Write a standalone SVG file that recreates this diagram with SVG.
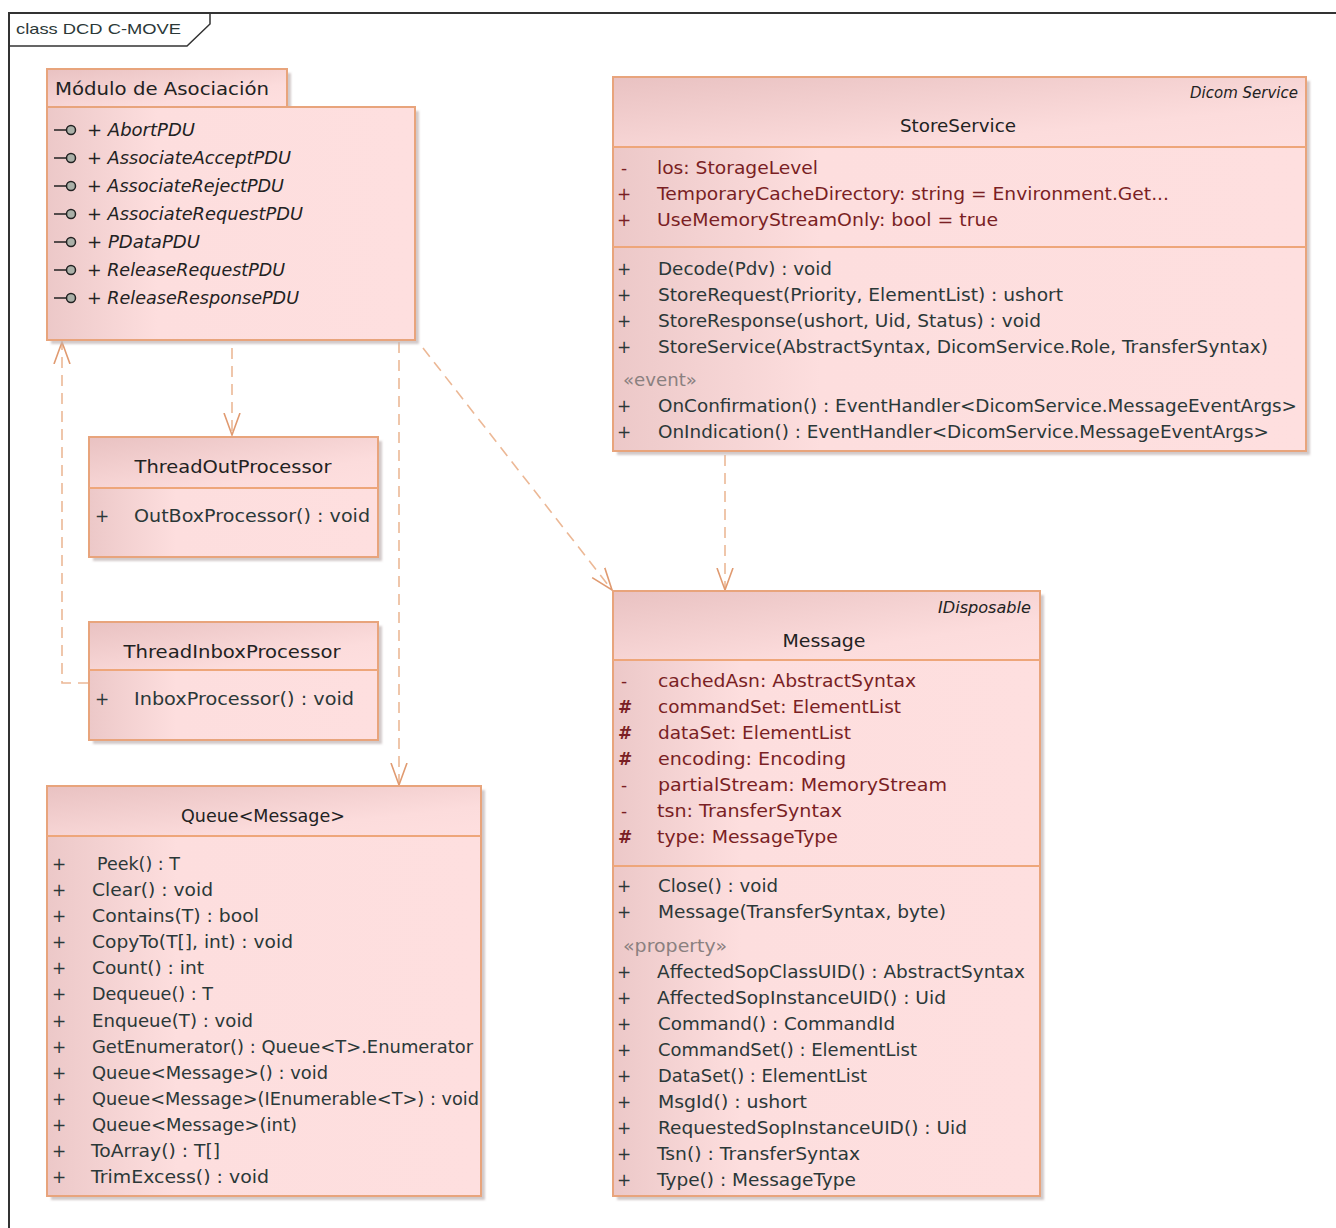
<svg xmlns="http://www.w3.org/2000/svg" width="1336" height="1228" viewBox="0 0 1336 1228">
<style>
text{font-family:"DejaVu Sans",Verdana,sans-serif;font-size:17px;fill:#2b3838;transform:translateY(1px)}
.t{fill:#222}
.a{fill:#7a1f24}
.s{fill:#8a8080}
.i{font-style:italic;fill:#222}
.m{text-anchor:middle;fill:#222}
.box{fill:url(#body);stroke:#e8a47c;stroke-width:2}
.hd{fill:url(#head);stroke:none}
.sh{fill:#c4b8b8;opacity:.75;filter:url(#blur)}
.div{stroke:#eea67a;stroke-width:2;fill:none}
.edge{fill:none;stroke:#ecb896;stroke-width:1.6;stroke-dasharray:11 7}
.lol{fill:none;stroke:#222;stroke-width:1.5}
.bulb{fill:#aab0a8;stroke:#222;stroke-width:1.5}
</style>
<defs>
<linearGradient id="body" x1="0" x2="1" y1="0" y2="0"><stop offset="0" stop-color="#ecc8c8"/><stop offset=".3" stop-color="#fddede"/><stop offset="1" stop-color="#fedfdf"/></linearGradient>
<linearGradient id="head" x1="0" x2="1" y1="0" y2="1"><stop offset="0" stop-color="#e9c2c2"/><stop offset=".7" stop-color="#fcdcdc"/><stop offset="1" stop-color="#fedfdf"/></linearGradient>
<filter id="blur"><feGaussianBlur stdDeviation="1.2"/></filter>
<marker id="open" markerWidth="26" markerHeight="30" refX="22" refY="12" orient="auto" markerUnits="userSpaceOnUse"><path d="M0 4L22 12L0 20" fill="none" stroke="#e09a70" stroke-width="1.6"/></marker>
</defs>
<rect width="1336" height="1228" fill="#fff"/>
<g id="frame"><path d="M1336 13H9V1228" fill="none" stroke="#333" stroke-width="2"/><path d="M9 46H187L210 24V13" fill="none" stroke="#333" stroke-width="1.5"/><text x="16" y="34" textLength="165" lengthAdjust="spacingAndGlyphs" style="font-family:'Liberation Sans',Arial,sans-serif;font-size:15px;transform:none">class DCD C-MOVE</text></g>
<g id="connectors">
<path class="edge" d="M232 348V435" marker-end="url(#open)"/>
<path class="edge" d="M399 342V785" marker-end="url(#open)"/>
<path class="edge" d="M423 348L612 590" marker-end="url(#open)"/>
<path class="edge" d="M725 455V590" marker-end="url(#open)"/>
<path class="edge" d="M89 683H62V342" marker-end="url(#open)"/>
</g>
<g id="modulo-asociacion">
<rect class="sh" x="51" y="73" width="240" height="40"/><rect class="sh" x="51" y="111" width="368" height="233"/>
<rect class="box" x="47" y="69" width="240" height="38"/><rect class="hd" x="48" y="70" width="238" height="36"/>
<rect class="box" x="47" y="107" width="368" height="233"/>
<text class="t" x="55" y="94" textLength="214" lengthAdjust="spacingAndGlyphs">Módulo de Asociación</text>
<path class="lol" d="M54 130H66M54 158H66M54 186H66M54 214H66M54 242H66M54 270H66M54 298H66"/>
<circle class="bulb" cx="71" cy="130" r="4.5"/><circle class="bulb" cx="71" cy="158" r="4.5"/><circle class="bulb" cx="71" cy="186" r="4.5"/><circle class="bulb" cx="71" cy="214" r="4.5"/><circle class="bulb" cx="71" cy="242" r="4.5"/><circle class="bulb" cx="71" cy="270" r="4.5"/><circle class="bulb" cx="71" cy="298" r="4.5"/>
<text class="i" x="87" y="135" textLength="108" lengthAdjust="spacingAndGlyphs">+ AbortPDU</text>
<text class="i" x="87" y="163" textLength="204" lengthAdjust="spacingAndGlyphs">+ AssociateAcceptPDU</text>
<text class="i" x="87" y="191" textLength="197" lengthAdjust="spacingAndGlyphs">+ AssociateRejectPDU</text>
<text class="i" x="87" y="219" textLength="216" lengthAdjust="spacingAndGlyphs">+ AssociateRequestPDU</text>
<text class="i" x="87" y="247" textLength="113" lengthAdjust="spacingAndGlyphs">+ PDataPDU</text>
<text class="i" x="87" y="275" textLength="198" lengthAdjust="spacingAndGlyphs">+ ReleaseRequestPDU</text>
<text class="i" x="87" y="303" textLength="212" lengthAdjust="spacingAndGlyphs">+ ReleaseResponsePDU</text>
</g>
<g id="store-service">
<rect class="sh" x="617" y="81" width="693" height="374"/>
<rect class="box" x="613" y="77" width="693" height="374"/><rect class="hd" x="614" y="78" width="691" height="69"/>
<path class="div" d="M613 147H1306M613 247H1306"/>
<text class="i" x="1190" y="97" textLength="108" lengthAdjust="spacingAndGlyphs" style="font-size:15px">Dicom Service</text>
<text class="m" x="958" y="131" textLength="116" lengthAdjust="spacingAndGlyphs">StoreService</text>
<text class="a" x="621" y="173">-</text><text class="a" x="657" y="173" textLength="161" lengthAdjust="spacingAndGlyphs">los:  StorageLevel</text>
<text class="a" x="617" y="199">+</text><text class="a" x="657" y="199" textLength="512" lengthAdjust="spacingAndGlyphs">TemporaryCacheDirectory:  string = Environment.Get...</text>
<text class="a" x="617" y="225">+</text><text class="a" x="657" y="225" textLength="341" lengthAdjust="spacingAndGlyphs">UseMemoryStreamOnly:  bool = true</text>
<text x="617" y="274">+</text><text x="658" y="274" textLength="174" lengthAdjust="spacingAndGlyphs">Decode(Pdv) : void</text>
<text x="617" y="300">+</text><text x="658" y="300" textLength="405" lengthAdjust="spacingAndGlyphs">StoreRequest(Priority, ElementList) : ushort</text>
<text x="617" y="326">+</text><text x="658" y="326" textLength="383" lengthAdjust="spacingAndGlyphs">StoreResponse(ushort, Uid, Status) : void</text>
<text x="617" y="352">+</text><text x="658" y="352" textLength="610" lengthAdjust="spacingAndGlyphs">StoreService(AbstractSyntax, DicomService.Role, TransferSyntax)</text>
<text class="s" x="623" y="385" textLength="74" lengthAdjust="spacingAndGlyphs">«event»</text>
<text x="617" y="411">+</text><text x="658" y="411" textLength="639" lengthAdjust="spacingAndGlyphs">OnConfirmation() : EventHandler&lt;DicomService.MessageEventArgs&gt;</text>
<text x="617" y="437">+</text><text x="658" y="437" textLength="611" lengthAdjust="spacingAndGlyphs">OnIndication() : EventHandler&lt;DicomService.MessageEventArgs&gt;</text>
</g>
<g id="thread-out-processor">
<rect class="sh" x="93" y="441" width="289" height="120"/>
<rect class="box" x="89" y="437" width="289" height="120"/><rect class="hd" x="90" y="438" width="287" height="50"/>
<path class="div" d="M89 488H378"/>
<text class="m" x="233" y="472" textLength="197" lengthAdjust="spacingAndGlyphs">ThreadOutProcessor</text>
<text x="95" y="521">+</text><text x="134" y="521" textLength="236" lengthAdjust="spacingAndGlyphs">OutBoxProcessor() : void</text>
</g>
<g id="thread-inbox-processor">
<rect class="sh" x="93" y="626" width="289" height="118"/>
<rect class="box" x="89" y="622" width="289" height="118"/><rect class="hd" x="90" y="623" width="287" height="47"/>
<path class="div" d="M89 670H378"/>
<text class="m" x="232" y="657" textLength="217" lengthAdjust="spacingAndGlyphs">ThreadInboxProcessor</text>
<text x="95" y="704">+</text><text x="134" y="704" textLength="220" lengthAdjust="spacingAndGlyphs">InboxProcessor() : void</text>
</g>
<g id="queue-message">
<rect class="sh" x="51" y="790" width="434" height="410"/>
<rect class="box" x="47" y="786" width="434" height="410"/><rect class="hd" x="48" y="787" width="432" height="49"/>
<path class="div" d="M47 836H481"/>
<text class="m" x="263" y="821" textLength="164" lengthAdjust="spacingAndGlyphs">Queue&lt;Message&gt;</text>
<text x="52" y="869">+</text><text x="97" y="869" textLength="83" lengthAdjust="spacingAndGlyphs">Peek() : T</text>
<text x="52" y="895">+</text><text x="92" y="895" textLength="121" lengthAdjust="spacingAndGlyphs">Clear() : void</text>
<text x="52" y="921">+</text><text x="92" y="921" textLength="167" lengthAdjust="spacingAndGlyphs">Contains(T) : bool</text>
<text x="52" y="947">+</text><text x="92" y="947" textLength="201" lengthAdjust="spacingAndGlyphs">CopyTo(T[], int) : void</text>
<text x="52" y="973">+</text><text x="92" y="973" textLength="112" lengthAdjust="spacingAndGlyphs">Count() : int</text>
<text x="52" y="999">+</text><text x="92" y="999" textLength="121" lengthAdjust="spacingAndGlyphs">Dequeue() : T</text>
<text x="52" y="1026">+</text><text x="92" y="1026" textLength="161" lengthAdjust="spacingAndGlyphs">Enqueue(T) : void</text>
<text x="52" y="1052">+</text><text x="92" y="1052" textLength="381" lengthAdjust="spacingAndGlyphs">GetEnumerator() : Queue&lt;T&gt;.Enumerator</text>
<text x="52" y="1078">+</text><text x="92" y="1078" textLength="236" lengthAdjust="spacingAndGlyphs">Queue&lt;Message&gt;() : void</text>
<text x="52" y="1104">+</text><text x="92" y="1104" textLength="387" lengthAdjust="spacingAndGlyphs">Queue&lt;Message&gt;(IEnumerable&lt;T&gt;) : void</text>
<text x="52" y="1130">+</text><text x="92" y="1130" textLength="205" lengthAdjust="spacingAndGlyphs">Queue&lt;Message&gt;(int)</text>
<text x="52" y="1156">+</text><text x="91" y="1156" textLength="129" lengthAdjust="spacingAndGlyphs">ToArray() : T[]</text>
<text x="52" y="1182">+</text><text x="91" y="1182" textLength="178" lengthAdjust="spacingAndGlyphs">TrimExcess() : void</text>
</g>
<g id="message">
<rect class="sh" x="617" y="595" width="427" height="605"/>
<rect class="box" x="613" y="591" width="427" height="605"/><rect class="hd" x="614" y="592" width="425" height="68"/>
<path class="div" d="M613 660H1040M613 866H1040"/>
<text class="i" x="938" y="612" textLength="93" lengthAdjust="spacingAndGlyphs" style="font-size:15px">IDisposable</text>
<text class="m" x="824" y="646" textLength="83" lengthAdjust="spacingAndGlyphs">Message</text>
<text class="a" x="621" y="686">-</text><text class="a" x="658" y="686" textLength="258" lengthAdjust="spacingAndGlyphs">cachedAsn:  AbstractSyntax</text>
<text class="a" x="618" y="712" font-weight="bold">#</text><text class="a" x="658" y="712" textLength="243" lengthAdjust="spacingAndGlyphs">commandSet:  ElementList</text>
<text class="a" x="618" y="738" font-weight="bold">#</text><text class="a" x="658" y="738" textLength="193" lengthAdjust="spacingAndGlyphs">dataSet:  ElementList</text>
<text class="a" x="618" y="764" font-weight="bold">#</text><text class="a" x="658" y="764" textLength="188" lengthAdjust="spacingAndGlyphs">encoding:  Encoding</text>
<text class="a" x="621" y="790">-</text><text class="a" x="658" y="790" textLength="289" lengthAdjust="spacingAndGlyphs">partialStream:  MemoryStream</text>
<text class="a" x="621" y="816">-</text><text class="a" x="657" y="816" textLength="185" lengthAdjust="spacingAndGlyphs">tsn:  TransferSyntax</text>
<text class="a" x="618" y="842" font-weight="bold">#</text><text class="a" x="657" y="842" textLength="181" lengthAdjust="spacingAndGlyphs">type:  MessageType</text>
<text x="617" y="891">+</text><text x="658" y="891" textLength="120" lengthAdjust="spacingAndGlyphs">Close() : void</text>
<text x="617" y="917">+</text><text x="658" y="917" textLength="288" lengthAdjust="spacingAndGlyphs">Message(TransferSyntax, byte)</text>
<text class="s" x="623" y="951" textLength="104" lengthAdjust="spacingAndGlyphs">«property»</text>
<text x="617" y="977">+</text><text x="657" y="977" textLength="368" lengthAdjust="spacingAndGlyphs">AffectedSopClassUID() : AbstractSyntax</text>
<text x="617" y="1003">+</text><text x="657" y="1003" textLength="289" lengthAdjust="spacingAndGlyphs">AffectedSopInstanceUID() : Uid</text>
<text x="617" y="1029">+</text><text x="658" y="1029" textLength="237" lengthAdjust="spacingAndGlyphs">Command() : CommandId</text>
<text x="617" y="1055">+</text><text x="658" y="1055" textLength="259" lengthAdjust="spacingAndGlyphs">CommandSet() : ElementList</text>
<text x="617" y="1081">+</text><text x="658" y="1081" textLength="209" lengthAdjust="spacingAndGlyphs">DataSet() : ElementList</text>
<text x="617" y="1107">+</text><text x="658" y="1107" textLength="149" lengthAdjust="spacingAndGlyphs">MsgId() : ushort</text>
<text x="617" y="1133">+</text><text x="658" y="1133" textLength="309" lengthAdjust="spacingAndGlyphs">RequestedSopInstanceUID() : Uid</text>
<text x="617" y="1159">+</text><text x="657" y="1159" textLength="203" lengthAdjust="spacingAndGlyphs">Tsn() : TransferSyntax</text>
<text x="617" y="1185">+</text><text x="657" y="1185" textLength="199" lengthAdjust="spacingAndGlyphs">Type() : MessageType</text>
</g>
</svg>
